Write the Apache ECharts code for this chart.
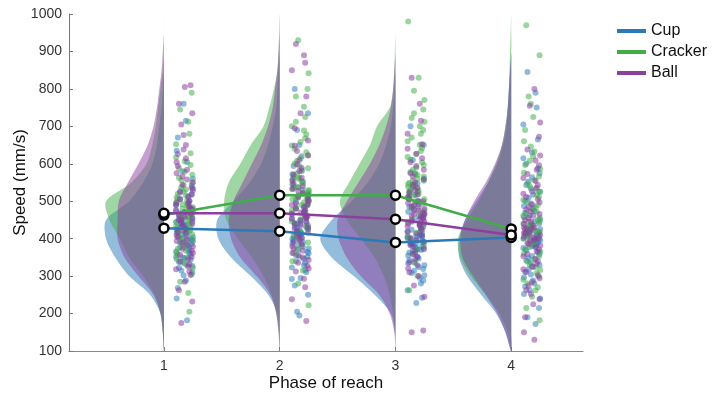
<!DOCTYPE html>
<html>
<head>
<meta charset="utf-8">
<script src="https://cdn.jsdelivr.net/npm/echarts@6/dist/echarts.min.js"></script>
<style>
  html, body { margin: 0; background: #fff; }
  #RainCloud { width: 722px; height: 398px; }
</style>
</head>
<body>
<div id="RainCloud"></div>
<script>
// phases on the x axis and the three objects
const phases = [1, 2, 3, 4];
const conditions = ['Cup', 'Cracker', 'Ball'];
const yTicks = [100, 200, 300, 400, 500, 600, 700, 800, 900, 1000];

// half-violin widths (in phase units) read at these speeds
const densityLevels = [100, 150, 200, 250, 300, 350, 400, 450, 500, 550, 600, 650, 700, 750, 800, 850, 900, 950, 1000];
const cupDensity = [
  [0, 0.01, 0.03, 0.12, 0.30, 0.42, 0.50, 0.50, 0.30, 0.18, 0.10, 0.06, 0.04, 0.02, 0.01, 0, 0, 0, 0],
  [0, 0.005, 0.02, 0.10, 0.25, 0.42, 0.53, 0.54, 0.40, 0.26, 0.16, 0.10, 0.06, 0.03, 0.02, 0.01, 0, 0, 0],
  [0, 0.005, 0.04, 0.18, 0.36, 0.55, 0.65, 0.55, 0.38, 0.24, 0.14, 0.08, 0.04, 0.02, 0.01, 0, 0, 0, 0],
  [0, 0.05, 0.13, 0.26, 0.38, 0.45, 0.45, 0.40, 0.30, 0.20, 0.12, 0.07, 0.04, 0.03, 0.02, 0.01, 0, 0, 0]
];
const crackerDensity = [
  [0, 0.01, 0.03, 0.08, 0.18, 0.30, 0.38, 0.47, 0.50, 0.28, 0.15, 0.10, 0.07, 0.05, 0.03, 0.01, 0, 0, 0],
  [0, 0.01, 0.03, 0.07, 0.14, 0.24, 0.36, 0.46, 0.48, 0.44, 0.34, 0.25, 0.14, 0.09, 0.05, 0.02, 0.01, 0, 0],
  [0, 0.005, 0.02, 0.05, 0.10, 0.18, 0.30, 0.42, 0.48, 0.40, 0.31, 0.22, 0.16, 0.05, 0.02, 0.01, 0.005, 0, 0],
  [0, 0.03, 0.10, 0.22, 0.35, 0.44, 0.46, 0.38, 0.28, 0.20, 0.13, 0.08, 0.05, 0.03, 0.02, 0.015, 0.01, 0.005, 0]
];
const ballDensity = [
  [0, 0.01, 0.03, 0.09, 0.22, 0.34, 0.40, 0.40, 0.39, 0.31, 0.22, 0.14, 0.09, 0.06, 0.04, 0.02, 0.01, 0, 0],
  [0, 0.01, 0.03, 0.08, 0.20, 0.34, 0.42, 0.44, 0.40, 0.32, 0.24, 0.16, 0.10, 0.06, 0.04, 0.02, 0.01, 0.005, 0.003],
  [0, 0.01, 0.05, 0.14, 0.30, 0.42, 0.49, 0.50, 0.42, 0.32, 0.22, 0.14, 0.08, 0.04, 0.02, 0.01, 0, 0, 0],
  [0, 0.05, 0.12, 0.22, 0.33, 0.42, 0.44, 0.40, 0.32, 0.22, 0.14, 0.08, 0.05, 0.03, 0.02, 0.01, 0, 0, 0]
];

// mean speed per phase
const cupMeans = [428, 420, 390, 403];
const crackerMeans = [463, 516, 516, 426];
const ballMeans = [468, 468, 452, 410];

// individual reaches (speed, mm/s) per phase
const cupPoints = [
  [182, 240, 268, 288, 302, 315, 327, 338, 348, 357, 366, 374, 382, 390, 397, 404, 411, 418, 424, 430, 436, 442, 449, 456, 463, 471, 480, 490, 501, 513, 527, 542, 560, 580, 605, 635, 670, 715, 760, 440,
   310, 322, 333, 344, 352, 361, 369, 377, 386, 393, 400, 407, 415, 421, 427, 433, 439, 446, 452, 459, 466, 474, 483, 494, 506, 519, 534, 350, 395, 445],
  [195, 205, 250, 275, 295, 310, 323, 335, 346, 356, 365, 374, 383, 391, 399, 407, 414, 421, 428, 435, 442, 450, 458, 467, 476, 486, 497, 509, 522, 537, 553, 572, 594, 620, 650, 690, 735, 800, 415, 430,
   292, 316, 329, 340, 351, 361, 370, 379, 387, 395, 403, 411, 418, 425, 432, 439, 446, 454, 462, 471, 481, 492, 503, 515, 530, 545, 562, 583, 400, 440],
  [228, 242, 262, 280, 295, 308, 319, 329, 338, 347, 355, 363, 371, 378, 385, 392, 399, 406, 413, 420, 428, 436, 445, 455, 466, 478, 492, 508, 526, 548, 575, 610, 650, 700, 395, 380, 402, 370, 410, 388,
   288, 302, 314, 324, 334, 343, 351, 359, 367, 375, 382, 389, 396, 403, 410, 417, 424, 432, 440, 450, 460, 472, 485, 500, 517, 537, 560, 390, 375, 405],
  [172, 190, 215, 240, 262, 280, 296, 311, 324, 336, 348, 359, 370, 380, 390, 400, 410, 420, 430, 440, 451, 462, 474, 487, 501, 517, 534, 553, 575, 600, 630, 665, 705, 750, 790, 845, 405, 395, 415, 385,
   252, 272, 288, 304, 318, 330, 342, 354, 365, 375, 385, 395, 405, 415, 425, 435, 446, 457, 469, 481, 494, 509, 525, 543, 564, 588, 615, 400, 380, 420]
];
const crackerPoints = [
  [205, 255, 285, 305, 322, 337, 350, 362, 373, 383, 393, 402, 411, 420, 428, 436, 444, 452, 460, 468, 476, 484, 492, 501, 510, 520, 531, 543, 556, 571, 588, 607, 628, 652, 680, 712, 745, 790, 470, 455,
   330, 345, 357, 368, 378, 388, 397, 406, 415, 424, 432, 440, 448, 456, 464, 472, 480, 488, 497, 506, 515, 526, 537, 550, 563, 579, 597, 617, 420, 485],
  [222, 280, 315, 340, 362, 381, 398, 413, 427, 440, 452, 464, 475, 486, 497, 507, 517, 527, 537, 547, 558, 569, 581, 594, 608, 623, 640, 658, 678, 700, 725, 752, 780, 800, 842, 930, 520, 505, 535, 490,
   352, 372, 390, 406, 420, 434, 446, 458, 470, 481, 492, 502, 512, 522, 532, 542, 552, 563, 575, 588, 601, 615, 631, 649, 668, 689, 712, 510, 530, 560],
  [262, 300, 335, 360, 382, 400, 416, 431, 445, 458, 470, 482, 494, 505, 516, 527, 538, 549, 560, 572, 584, 597, 611, 626, 642, 660, 680, 700, 722, 745, 770, 795, 830, 980, 515, 525, 500, 540, 555, 530,
   372, 392, 408, 424, 438, 452, 464, 476, 488, 500, 511, 522, 533, 544, 555, 566, 578, 590, 604, 618, 634, 651, 670, 690, 712, 735, 520, 545, 505, 570],
  [182, 215, 245, 270, 290, 308, 324, 339, 353, 366, 378, 390, 401, 412, 423, 434, 445, 456, 467, 478, 490, 503, 517, 532, 548, 566, 586, 608, 633, 660, 690, 725, 760, 780, 890, 970, 430, 420, 440, 410,
   262, 280, 299, 316, 331, 346, 360, 372, 384, 396, 407, 418, 428, 439, 450, 461, 472, 484, 497, 511, 525, 540, 557, 576, 597, 620, 646, 425, 445, 415]
];
const ballPoints = [
  [175, 232, 262, 285, 303, 318, 332, 345, 357, 368, 379, 389, 399, 408, 417, 426, 435, 444, 453, 462, 471, 480, 490, 500, 511, 523, 536, 550, 566, 584, 604, 626, 650, 677, 705, 735, 760, 805, 810, 495,
   312, 326, 339, 351, 362, 373, 384, 394, 404, 413, 422, 431, 440, 449, 458, 467, 476, 485, 495, 505, 517, 529, 543, 558, 575, 594, 615, 638, 450, 480],
  [180, 238, 270, 293, 312, 328, 343, 356, 368, 380, 391, 401, 411, 421, 430, 439, 448, 457, 466, 475, 484, 494, 504, 515, 527, 540, 555, 571, 589, 610, 634, 662, 695, 735, 780, 850, 870, 890, 920, 460,
   320, 336, 350, 362, 374, 386, 396, 406, 416, 426, 435, 444, 453, 462, 471, 480, 489, 499, 510, 521, 533, 547, 563, 580, 599, 622, 648, 470, 455, 490],
  [150, 155, 245, 275, 300, 320, 337, 352, 366, 379, 391, 402, 413, 423, 433, 443, 452, 461, 470, 480, 490, 500, 511, 523, 536, 550, 566, 584, 604, 627, 652, 680, 715, 760, 830, 455, 445, 465, 475, 440,
   310, 329, 345, 359, 372, 385, 397, 408, 418, 428, 438, 448, 457, 466, 475, 485, 495, 506, 517, 530, 543, 558, 575, 594, 615, 640, 460, 435, 485, 500],
  [130, 150, 190, 225, 252, 275, 294, 311, 326, 340, 353, 365, 377, 388, 399, 410, 420, 430, 440, 450, 461, 472, 484, 497, 511, 526, 543, 562, 584, 609, 638, 672, 710, 755, 800, 405, 415, 395, 425, 385,
   238, 263, 284, 302, 318, 333, 346, 359, 371, 382, 393, 404, 415, 425, 435, 445, 455, 466, 478, 491, 505, 520, 536, 554, 573, 596, 622, 410, 400, 430]
];

const lineColors = ['#2a7ab8', '#41ad49', '#8b3f9f'];
const fillColors = ['rgba(42,122,184,0.5)', 'rgba(65,173,73,0.5)', 'rgba(139,63,159,0.5)'];
const dotColors = ['rgba(42,122,184,0.65)', 'rgba(65,173,73,0.65)', 'rgba(139,63,159,0.68)'];
const cloudOffset = 0.18;
const jitter = [0.02, -0.05, 0.06, -0.01, 0.04, -0.07, 0.0, 0.07, -0.03, 0.03, -0.06, 0.05, -0.02, 0.065, -0.04, 0.01, -0.075];

const densities = [cupDensity, crackerDensity, ballDensity];
const means = [cupMeans, crackerMeans, ballMeans];
const points = [cupPoints, crackerPoints, ballPoints];

const violinSeries = conditions.map((name, c) => ({
  name: name + ' density',
  type: 'custom',
  z: 1,
  silent: true,
  data: phases.map((p, i) => [p, 500, i]),
  encode: { x: 0, y: 1 },
  renderItem: (params, api) => {
    const p = api.value(0);
    const prof = densities[c][api.value(2)];
    const pts = [];
    densityLevels.forEach((lv, j) => pts.push(api.coord([p - prof[j], lv])));
    for (let j = densityLevels.length - 2; j >= 1; j--) {
      pts.push(api.coord([p, densityLevels[j]]));
    }
    return {
      type: 'polygon',
      shape: { points: pts, smooth: 0.3 },
      style: { fill: fillColors[c], stroke: null }
    };
  }
}));

const dotSeries = conditions.map((name, c) => {
  const data = [];
  points[c].forEach((ys, i) => {
    ys.forEach((y, k) => {
      data.push([phases[i] + cloudOffset + jitter[(k * 5 + c * 4 + i * 3) % jitter.length], y]);
    });
  });
  return {
    name: name + ' points',
    type: 'scatter',
    z: 2,
    symbolSize: 6,
    itemStyle: { color: dotColors[c] },
    data: data
  };
});

const meanSeries = conditions.map((name, c) => ({
  name: name,
  type: 'line',
  z: 5,
  color: lineColors[c],
  data: phases.map((p, i) => [p, means[c][i]]),
  lineStyle: { width: 2.5, color: lineColors[c] },
  symbol: 'circle',
  symbolSize: 9,
  itemStyle: { color: '#fff', borderColor: '#000', borderWidth: 2.5 }
}));

const option = {
  backgroundColor: '#fff',
  animation: false,
  textStyle: { fontFamily: 'Liberation Sans, Arial, sans-serif' },
  grid: { left: 69, right: 139, top: 14, bottom: 47, outerBoundsMode: 'none' },
  legend: {
    orient: 'vertical',
    left: 617,
    top: 23,
    padding: 0,
    icon: 'rect',
    itemWidth: 29,
    itemHeight: 4,
    itemGap: 5,
    textStyle: { fontSize: 16, color: '#111' },
    data: conditions.map((name, c) => ({ name: name, itemStyle: { color: lineColors[c], borderWidth: 0 } }))
  },
  xAxis: {
    type: 'value',
    min: 0.18,
    max: 4.62,
    name: 'Phase of reach',
    nameLocation: 'middle',
    nameGap: 24,
    nameMoveOverlap: false,
    nameTextStyle: { fontSize: 17, color: '#111' },
    splitLine: { show: false },
    axisLine: { lineStyle: { color: '#888', width: 1 } },
    axisTick: { inside: true, length: 4, customValues: phases, lineStyle: { color: '#888' } },
    axisLabel: { customValues: phases, fontSize: 14, color: '#333', margin: 8 }
  },
  yAxis: {
    type: 'value',
    min: 100,
    max: 1000,
    interval: 100,
    name: 'Speed (mm/s)',
    nameLocation: 'middle',
    nameGap: 40,
    nameMoveOverlap: false,
    nameTextStyle: { fontSize: 17, color: '#111' },
    splitLine: { show: false },
    axisLine: { show: true, lineStyle: { color: '#777', width: 1 } },
    axisTick: { show: true, inside: true, length: 4, lineStyle: { color: '#777' } },
    axisLabel: { fontSize: 14, color: '#333', margin: 7,
      customValues: yTicks, formatter: v => String(v) }
  },
  series: [].concat(violinSeries, dotSeries, meanSeries)
};

let myChart = echarts.getInstanceByDom(document.getElementById('RainCloud'));
if (null == myChart) {
  myChart = echarts.init(document.getElementById('RainCloud'));
}
myChart.setOption(option);
</script>
</body>
</html>
